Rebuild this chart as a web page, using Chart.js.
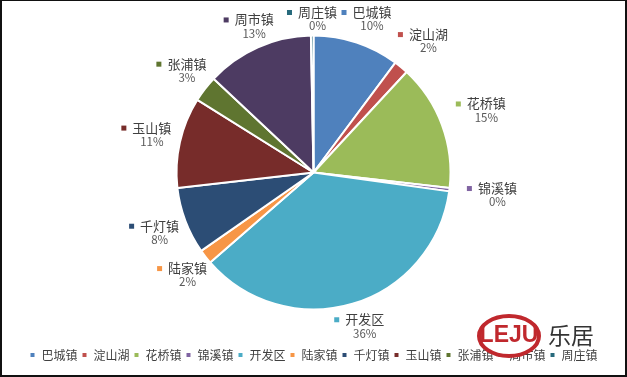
<!DOCTYPE html>
<html>
<head>
<meta charset="utf-8">
<script src="https://cdn.jsdelivr.net/npm/chart.js@4.4.0/dist/chart.umd.min.js"></script>
<style>
  html, body { margin: 0; padding: 0; background: #fff; }
  #wrap { position: relative; width: 627px; height: 377px; }
  #frame { position: absolute; left: 0; top: 0; width: 627px; height: 377px; box-sizing: border-box;
           border: 2px solid #111; border-top-width: 1px; pointer-events: none; }
</style>
</head>
<body>
<div id="wrap">
  <canvas id="myChart" width="627" height="377"></canvas>
  <div id="frame"></div>
</div>
<script>
// towns and their share (%)
var towns = ['巴城镇', '淀山湖', '花桥镇', '锦溪镇', '开发区', '陆家镇', '千灯镇', '玉山镇', '张浦镇', '周市镇', '周庄镇'];
var shares = [10.2, 1.7, 14.9, 0.4, 36.4, 1.7, 7.9, 10.7, 3.1, 12.7, 0.3];
var colors = ['#4F81BD', '#C0504D', '#9BBB59', '#8064A2', '#4BACC6', '#F79646',
              '#2C4D75', '#772C2A', '#5F7530', '#4D3B62', '#276A7C'];

var FONT = '"Microsoft YaHei", "Noto Sans CJK SC", sans-serif';

// outside labels: small colour square + name, percent underneath
var outLabels = {
    id: 'outLabels',
    afterDatasetsDraw: function(chart) {
        var ctx = chart.ctx;
        var meta = chart.getDatasetMeta(0);
        var total = shares.reduce(function(a, b) { return a + b; }, 0);
        ctx.save();
        ctx.textAlign = 'center';
        ctx.textBaseline = 'middle';
        meta.data.forEach(function(arc, i) {
            var p = arc.getProps(['x', 'y', 'startAngle', 'endAngle', 'outerRadius'], true);
            var mid = (p.startAngle + p.endAngle) / 2;
            var ux = Math.cos(mid), uy = Math.sin(mid);
            ctx.font = '13px ' + FONT;
            var name = towns[i];
            var tw = ctx.measureText(name).width;
            var hw = (tw + 11) / 2, hh = 14;
            var dist = p.outerRadius + 10 + Math.max(Math.abs(ux) * hw, Math.abs(uy) * hh) + (ux > 0.3 ? 8 : 0);
            var cx = p.x + ux * dist;
            var cy = p.y + uy * dist;
            if (cy < 19) cy = 19;
            var tx = cx + 5.5;
            ctx.fillStyle = colors[i];
            ctx.fillRect(cx - hw, cy - 9, 5, 5);
            ctx.fillStyle = '#404040';
            ctx.fillText(name, tx, cy - 7);
            ctx.font = '11.5px ' + FONT;
            ctx.fillStyle = '#595959';
            ctx.fillText(Math.round(shares[i] / total * 100) + '%', tx, cy + 7);
        });
        ctx.restore();
    }
};

// watermark in the lower right corner
var watermark = {
    id: 'watermark',
    afterDraw: function(chart) {
        var ctx = chart.ctx;
        ctx.save();
        ctx.beginPath();
        ctx.ellipse(509, 336, 30, 20, 0, 0, Math.PI * 2);
        ctx.fillStyle = '#ffffff';
        ctx.fill();
        ctx.strokeStyle = '#C0282D';
        ctx.lineWidth = 4;
        ctx.stroke();
        ctx.fillStyle = '#C0282D';
        ctx.font = 'bold 23px "Liberation Sans Narrow", "Liberation Sans", sans-serif';
        ctx.textAlign = 'center';
        ctx.textBaseline = 'middle';
        ctx.fillText('LEJU', 509, 336);
        ctx.fillStyle = '#333333';
        ctx.font = '23px ' + FONT;
        ctx.textAlign = 'left';
        ctx.fillText('乐居', 548, 335);
        ctx.restore();
    }
};

var ctx = document.getElementById('myChart');
var myChart = new Chart(ctx, {
    type: 'pie',
    data: {
        labels: towns,
        datasets: [{
            data: shares,
            backgroundColor: colors,
            borderColor: '#ffffff',
            borderWidth: 2
        }]
    },
    options: {
        responsive: false,
        animation: false,
        radius: 137,
        layout: { padding: { top: 0, bottom: 6, left: 0, right: 0 } },
        plugins: {
            legend: {
                position: 'bottom',
                labels: {
                    boxWidth: 6,
                    boxHeight: 6,
                    padding: 4,
                    color: '#404040',
                    font: { size: 12, family: FONT }
                }
            },
            tooltip: { enabled: false }
        }
    },
    plugins: [outLabels, watermark]
});
</script>
</body>
</html>
